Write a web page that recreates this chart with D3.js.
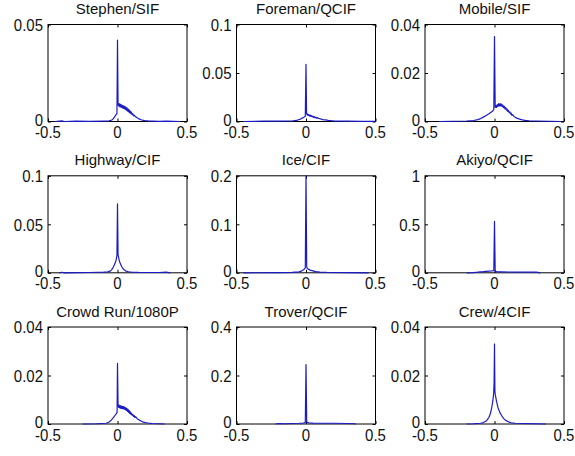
<!DOCTYPE html>
<html>
<head>
<meta charset="utf-8">
<script src="https://cdn.jsdelivr.net/npm/d3@7"></script>
<style>
  html, body { margin: 0; padding: 0; background: #fff; }
  svg { display: block; }
  text { font-family: "Liberation Sans", Arial, Helvetica, sans-serif; fill: #111; }
</style>
</head>
<body>
<svg id="fig" width="575" height="456"></svg>
<script>
// Panel titles, in reading order (row by row)
const titles = [
  "Stephen/SIF", "Foreman/QCIF", "Mobile/SIF",
  "Highway/CIF", "Ice/CIF", "Akiyo/QCIF",
  "Crowd Run/1080P", "Trover/QCIF", "Crew/4CIF"
];

// Upper limit of each panel's y axis
const yMax = [0.05, 0.1, 0.04, 0.1, 0.2, 1, 0.04, 0.4, 0.04];

// Y tick values per panel
const yTicks = [
  [0, 0.05], [0, 0.05, 0.1], [0, 0.02, 0.04],
  [0, 0.05, 0.1], [0, 0.1, 0.2], [0, 0.5, 1],
  [0, 0.02, 0.04], [0, 0.2, 0.4], [0, 0.02, 0.04]
];

// Shared x ticks
const xTicks = [-0.5, 0, 0.5];

// Distributions: [x, probability]
const stephen = [[-0.45,0],[-0.4,0.0003],[-0.38,0],[-0.3,0.0002],[-0.2,0.0001],[-0.1,0.0002],[-0.06,0.0003],[-0.04,0.0008],[-0.03,0.0015],[-0.02,0.0025],[-0.01,0.0035],[-0.004,0.004],[0,0.042],
  [0.004,0.009],[0.008,0.008],[0.012,0.0092],[0.016,0.0076],[0.02,0.0089],[0.024,0.0074],[0.028,0.0086],[0.032,0.0071],[0.036,0.0083],[0.04,0.0068],[0.044,0.008],[0.048,0.0066],[0.052,0.0078],[0.056,0.0062],[0.06,0.0074],[0.064,0.0058],[0.068,0.007],[0.072,0.0054],[0.076,0.0065],[0.08,0.005],[0.084,0.006],[0.088,0.0045],[0.092,0.0054],[0.096,0.004],[0.1,0.0048],[0.105,0.0035],[0.11,0.004],[0.115,0.0029],[0.12,0.0033],
  [0.13,0.0024],[0.14,0.002],[0.15,0.0015],[0.16,0.0012],[0.17,0.0009],[0.18,0.0007],[0.2,0.0004],[0.22,0.0003],[0.25,0.0002],[0.3,0.0001],[0.35,0.0002],[0.4,0.0001],[0.45,0]];
const foreman = [[-0.45,0],[-0.3,0.0003],[-0.2,0.0003],[-0.1,0.0005],[-0.06,0.0015],[-0.04,0.0025],[-0.02,0.004],[-0.005,0.0055],[0,0.059],
  [0.004,0.0085],[0.008,0.0068],[0.012,0.0078],[0.016,0.0062],[0.02,0.0072],[0.025,0.0056],[0.03,0.0066],[0.035,0.0052],[0.04,0.006],[0.045,0.0047],[0.05,0.0055],[0.055,0.0042],[0.06,0.005],[0.065,0.0038],[0.07,0.0045],[0.075,0.0034],[0.08,0.004],
  [0.09,0.0032],[0.1,0.0028],[0.11,0.0024],[0.12,0.002],[0.14,0.0016],[0.16,0.0012],[0.18,0.0009],[0.2,0.0007],[0.25,0.0004],[0.3,0.0003],[0.4,0.0002],[0.5,0.0001]];
const mobile = [[-0.4,0],[-0.3,0.0001],[-0.2,0.0002],[-0.15,0.0004],[-0.12,0.0008],[-0.1,0.0012],[-0.08,0.0018],[-0.06,0.0025],[-0.04,0.0032],[-0.02,0.004],[-0.005,0.0048],[0,0.035],
  [0.005,0.0058],[0.01,0.0066],[0.015,0.0058],[0.02,0.007],[0.025,0.0062],[0.03,0.0074],[0.035,0.0064],[0.04,0.0074],[0.045,0.0064],[0.05,0.0072],[0.055,0.0061],[0.06,0.0068],[0.065,0.0057],[0.07,0.0063],[0.075,0.0052],[0.08,0.0058],[0.085,0.0047],[0.09,0.0052],[0.095,0.0042],[0.1,0.0046],[0.105,0.0037],[0.11,0.004],[0.115,0.0031],[0.12,0.0034],[0.125,0.0026],[0.13,0.0028],
  [0.14,0.0021],[0.15,0.0017],[0.16,0.0014],[0.18,0.001],[0.2,0.0007],[0.22,0.0005],[0.25,0.0003],[0.3,0.0002],[0.4,0.0001],[0.48,0]];
const highway = [[-0.42,0],[-0.4,0.0006],[-0.38,0],[-0.3,0.0002],[-0.2,0.0003],[-0.1,0.0006],[-0.07,0.001],[-0.05,0.002],[-0.04,0.0035],[-0.03,0.006],[-0.02,0.009],[-0.01,0.013],[-0.004,0.018],[0,0.071],[0.004,0.019],[0.008,0.016],[0.012,0.013],[0.02,0.0095],[0.03,0.0065],[0.04,0.0042],[0.05,0.0028],[0.06,0.0018],[0.08,0.0011],[0.1,0.0007],[0.15,0.0004],[0.2,0.0003],[0.3,0.0003],[0.35,0.0006],[0.38,0]];
const ice = [[-0.45,0],[-0.2,0.0004],[-0.1,0.0008],[-0.05,0.002],[-0.03,0.004],[-0.015,0.007],[-0.005,0.01],[0,0.2],[0.005,0.012],[0.01,0.009],[0.02,0.007],[0.03,0.0055],[0.05,0.004],[0.07,0.0025],[0.1,0.0013],[0.15,0.0007],[0.3,0.0004],[0.45,0]];
const akiyo = [[-0.2,0],[-0.15,0.002],[-0.12,0.006],[-0.1,0.01],[-0.08,0.012],[-0.06,0.015],[-0.04,0.018],[-0.02,0.02],[-0.005,0.022],[0,0.53],[0.005,0.015],[0.02,0.01],[0.05,0.009],[0.1,0.008],[0.15,0.0075],[0.2,0.007],[0.25,0.007],[0.3,0.006],[0.32,0.002],[0.33,0]];
const crowdRun = [[-0.25,0],[-0.15,0.0001],[-0.08,0.0003],[-0.06,0.0008],[-0.045,0.0016],[-0.03,0.0026],[-0.02,0.0034],[-0.01,0.0042],[-0.003,0.0048],[0,0.025],
  [0.004,0.008],[0.008,0.0068],[0.012,0.0078],[0.016,0.0066],[0.02,0.0076],[0.024,0.0064],[0.028,0.0074],[0.032,0.0063],[0.036,0.0073],[0.04,0.0062],[0.044,0.0072],[0.048,0.0061],[0.052,0.007],[0.056,0.0059],[0.06,0.0067],[0.064,0.0056],[0.068,0.0064],[0.072,0.0052],[0.076,0.006],[0.08,0.0048],[0.084,0.0055],[0.088,0.0044],[0.092,0.005],[0.096,0.004],[0.1,0.0045],[0.105,0.0036],[0.11,0.004],[0.115,0.0031],[0.12,0.0035],[0.125,0.0027],[0.13,0.003],
  [0.14,0.0023],[0.15,0.0019],[0.16,0.0015],[0.17,0.0012],[0.18,0.0009],[0.2,0.0006],[0.22,0.0004],[0.25,0.0002],[0.3,0.0001],[0.34,0]];
const trover = [[-0.22,0],[-0.2,0.002],[-0.15,0.001],[-0.1,0.002],[-0.05,0.003],[-0.02,0.004],[-0.005,0.006],[0,0.245],[0.005,0.008],[0.02,0.005],[0.05,0.004],[0.1,0.003],[0.2,0.003],[0.3,0.002],[0.35,0.001],[0.36,0]];
const crew = [[-0.2,0],[-0.15,0.0001],[-0.1,0.0003],[-0.08,0.0006],[-0.06,0.0012],[-0.05,0.0019],[-0.04,0.0028],[-0.03,0.0042],[-0.02,0.0068],[-0.012,0.0095],[-0.006,0.0125],[-0.003,0.017],[0,0.033],[0.003,0.0135],[0.006,0.012],[0.01,0.0108],[0.015,0.0092],[0.02,0.008],[0.025,0.0068],[0.03,0.006],[0.04,0.0046],[0.05,0.0036],[0.06,0.0027],[0.07,0.002],[0.08,0.0015],[0.1,0.0009],[0.12,0.0005],[0.15,0.0003],[0.2,0.0002],[0.3,0.0001],[0.37,0]];

const series = [stephen, foreman, mobile, highway, ice, akiyo, crowdRun, trover, crew];

// Grid geometry
const colLeft = [48, 236.5, 425];
const rowTop = [24.5, 175.8, 327];
const panelW = 139, panelH = 97;
const tickLen = 3;
const lineColor = "#1c1cc4";
const tickFont = 15, stretch = 1.15;

const fmt = v => (v === 0 ? "0" : String(v));
const svg = d3.select("#fig");

series.forEach((data, i) => {
  const r = Math.floor(i / 3), c = i % 3;
  const g = svg.append("g").attr("transform", `translate(${colLeft[c]},${rowTop[r]})`);

  const x = d3.scaleLinear().domain([-0.5, 0.5]).range([0, panelW]);
  const y = d3.scaleLinear().domain([0, yMax[i]]).range([panelH, 0]);

  // Inward ticks on all four sides
  const axes = [
    [d3.axisBottom(x).tickValues(xTicks), `translate(0,${panelH})`],
    [d3.axisTop(x).tickValues(xTicks), null],
    [d3.axisLeft(y).tickValues(yTicks[i]), null],
    [d3.axisRight(y).tickValues(yTicks[i]), `translate(${panelW},0)`]
  ];
  axes.forEach(([ax, tr]) => {
    const a = g.append("g").call(ax.tickFormat("").tickSizeInner(-tickLen).tickSizeOuter(0));
    if (tr) a.attr("transform", tr);
    a.select(".domain").remove();
    a.selectAll(".tick line").attr("stroke", "#000");
  });

  // Tick labels (slightly tall glyphs)
  g.selectAll(".xl").data(xTicks).join("text")
    .attr("transform", d => `translate(${x(d)},${panelH + 16.5}) scale(1,${stretch})`)
    .attr("text-anchor", "middle").attr("font-size", tickFont).text(fmt);
  g.selectAll(".yl").data(yTicks[i]).join("text")
    .attr("transform", d => `translate(-5,${y(d) + (d === 0 ? 4.2 : 6.2)}) scale(1,${stretch})`)
    .attr("text-anchor", "end").attr("font-size", tickFont).text(fmt);

  // Axes box
  g.append("rect").attr("x", 0).attr("y", 0).attr("width", panelW).attr("height", panelH)
    .attr("fill", "none").attr("stroke", "#000").attr("stroke-width", 1);

  // Distribution curve
  const line = d3.line().x(d => x(d[0])).y(d => y(d[1]));
  g.append("path").datum(data).attr("d", line)
    .attr("fill", "none").attr("stroke", lineColor).attr("stroke-width", 1.2)
    .attr("stroke-linejoin", "round");

  // Title
  g.append("text").attr("x", panelW / 2).attr("y", -10.5)
    .attr("text-anchor", "middle").attr("font-size", 15).text(titles[i]);
});
</script>
</body>
</html>
